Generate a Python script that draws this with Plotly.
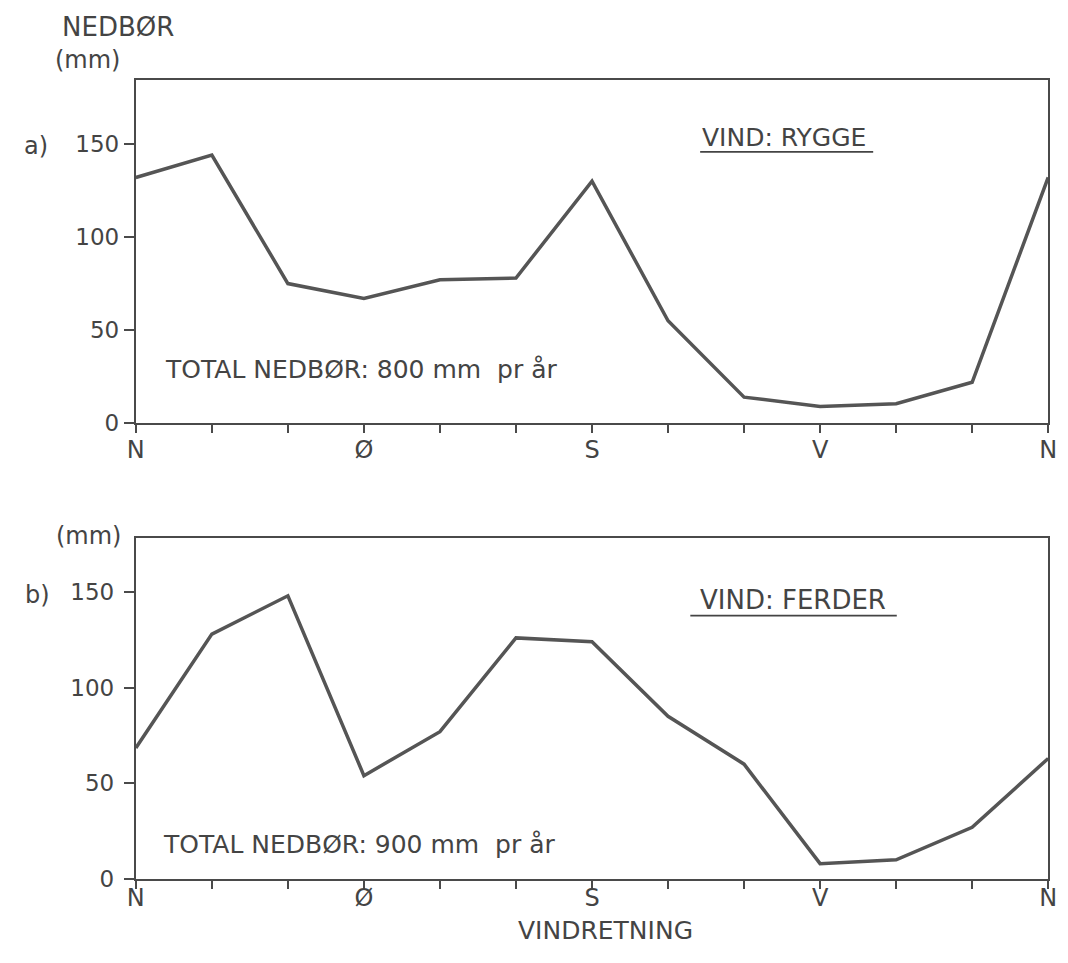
import plotly.graph_objects as go

# ---- data ----
direction_deg = [0, 30, 60, 90, 120, 150, 180, 210, 240, 270, 300, 330, 360]
tick_text = ["N", "", "", "Ø", "", "", "S", "", "", "V", "", "", "N"]
rygge_mm = [132, 144, 75, 67, 77, 78, 130, 55, 14, 9, 10.5, 22, 132]
ferder_mm = [68.5, 128, 148, 54, 77, 126, 124, 85, 60, 8, 10, 27, 63]
y_ticks = [0, 50, 100, 150]

W, H = 1068, 963
FONT = "DejaVu Sans"
TXT = "#444444"
LINE = "#555555"
AX = "#4a4a4a"


def px(x):
    return x / W


def py(y):
    return 1 - y / H


fig = go.Figure()
fig.add_trace(go.Scatter(x=direction_deg, y=rygge_mm, mode="lines",
                         line=dict(color=LINE, width=3.5), xaxis="x", yaxis="y",
                         showlegend=False, hoverinfo="skip"))
fig.add_trace(go.Scatter(x=direction_deg, y=ferder_mm, mode="lines",
                         line=dict(color=LINE, width=3.5), xaxis="x2", yaxis="y2",
                         showlegend=False, hoverinfo="skip"))

xdom = [px(129), px(1057)]
common_x = dict(range=[0, 360], tickvals=direction_deg, ticktext=tick_text,
                showline=True, linecolor=AX, linewidth=2, mirror=True,
                ticks="outside", ticklen=8, tickwidth=1.5, tickcolor=AX,
                tickfont=dict(family=FONT, size=24, color=TXT),
                showgrid=False, zeroline=False, domain=xdom, fixedrange=True)
common_y = dict(tickvals=y_ticks, showline=True, linecolor=AX, linewidth=2,
                mirror=True, ticks="outside", ticklen=10, tickwidth=1.5,
                tickcolor=AX, tickfont=dict(family=FONT, size=23, color=TXT),
                showgrid=False, zeroline=False, fixedrange=True)

fig.update_layout(
    width=W, height=H,
    margin=dict(l=0, r=0, t=0, b=0),
    paper_bgcolor="white", plot_bgcolor="white",
    xaxis=dict(common_x, anchor="y", ticklabelstandoff=-4),
    yaxis=dict(common_y, range=[0, 184.4], domain=[py(429), py(81)], anchor="x"),
    xaxis2=dict(common_x, anchor="y2", ticklabelstandoff=-12),
    yaxis2=dict(common_y, range=[0, 178.4], domain=[py(891), py(545)], anchor="x2",
                ticklabelstandoff=5),
)

ann = [
    ("NEDBØR", 111, 27, "center", 26),
    ("(mm)", 80, 61, "center", 24),
    ("a)", 27, 148, "center", 24),
    ("VIND: RYGGE", 788, 139, "center", 25),
    ("TOTAL NEDBØR: 800 mm  pr år", 157, 375, "left", 25),
    ("(mm)", 81, 543, "center", 24),
    ("b)", 29, 603, "center", 24),
    ("VIND: FERDER", 797, 608, "center", 26),
    ("TOTAL NEDBØR: 900 mm  pr år", 155, 856, "left", 25),
    ("VINDRETNING", 607, 943, "center", 25),
]
for text, x, y, anchor, size in ann:
    fig.add_annotation(text=text, x=px(x), y=py(y), xref="paper", yref="paper",
                       xanchor=anchor, yanchor="middle", showarrow=False,
                       font=dict(family=FONT, size=size, color=TXT))

for x0, x1, y in [(703, 879, 154), (693, 903, 624)]:
    fig.add_shape(type="line", xref="paper", yref="paper",
                  x0=px(x0), x1=px(x1), y0=py(y), y1=py(y),
                  line=dict(color=TXT, width=1.8))

fig.write_html(
    "out.html",
    config={"displayModeBar": False},
    post_script="document.body.style.margin='0';document.body.style.padding='0';"
                "document.body.style.overflow='hidden';",
)
